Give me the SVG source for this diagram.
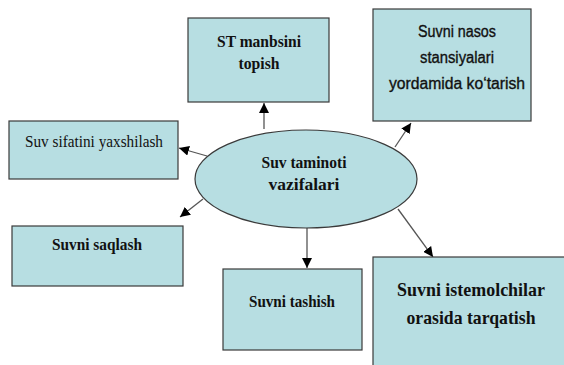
<svg xmlns="http://www.w3.org/2000/svg" width="564" height="365" viewBox="0 0 564 365">
<style>
.box{fill:#b7dee2;stroke:#3a3a3a;stroke-width:1.2}
.ser{font-family:"Liberation Serif","Times New Roman",serif;fill:#111;text-anchor:middle}
.b{font-weight:bold}
.sans{font-family:"Liberation Sans",Arial,sans-serif;fill:#111;stroke:#111;stroke-width:0.35;text-anchor:middle}
.con{stroke:#555;stroke-width:1.3;fill:none;marker-end:url(#ah)}
</style>
<defs>
<marker id="ah" viewBox="0 0 10 10" refX="10" refY="5" markerWidth="10" markerHeight="10" markerUnits="userSpaceOnUse" orient="auto">
<path d="M0,0 L10,5 L0,10 Z" fill="#000"/>
</marker>
</defs>
<rect width="564" height="365" fill="#fff"/>
<g id="connectors">
<line class="con" x1="264" y1="129" x2="264" y2="103"/>
<line class="con" x1="395" y1="147" x2="411" y2="123"/>
<line class="con" x1="207" y1="156" x2="179" y2="148"/>
<line class="con" x1="203" y1="199" x2="180" y2="217"/>
<line class="con" x1="307" y1="228" x2="307" y2="268"/>
<line class="con" x1="398" y1="209" x2="433" y2="257"/>
</g>
<g id="n-st">
<rect class="box" x="188" y="18" width="141" height="84"/>
<text class="ser b" x="259" y="47" font-size="17.5" textLength="84" lengthAdjust="spacingAndGlyphs">ST manbsini</text>
<text class="ser b" x="259" y="69" font-size="17.5" textLength="41" lengthAdjust="spacingAndGlyphs">topish</text>
</g>
<g id="n-nasos">
<rect class="box" x="373" y="9" width="158" height="112"/>
<text class="sans" x="457" y="37" font-size="16" textLength="78" lengthAdjust="spacingAndGlyphs">Suvni nasos</text>
<text class="sans" x="457" y="63" font-size="16" textLength="74" lengthAdjust="spacingAndGlyphs">stansiyalari</text>
<text class="sans" x="457" y="89" font-size="16" textLength="136" lengthAdjust="spacingAndGlyphs">yordamida ko‘tarish</text>
</g>
<g id="n-sifat">
<rect class="box" x="9" y="121" width="169" height="58"/>
<text class="ser" x="94" y="147" font-size="16" textLength="138" lengthAdjust="spacingAndGlyphs">Suv sifatini yaxshilash</text>
</g>
<g id="n-saqlash">
<rect class="box" x="12" y="226" width="171" height="60"/>
<text class="ser b" x="97" y="250" font-size="16.5" textLength="90" lengthAdjust="spacingAndGlyphs">Suvni saqlash</text>
</g>
<g id="n-center">
<ellipse class="box" cx="306" cy="179" rx="111" ry="49"/>
<text class="ser b" x="304" y="168" font-size="16.5" textLength="85" lengthAdjust="spacingAndGlyphs">Suv taminoti</text>
<text class="ser b" x="304" y="190" font-size="16.5" textLength="71" lengthAdjust="spacingAndGlyphs">vazifalari</text>
</g>
<g id="n-tashish">
<rect class="box" x="223" y="269" width="139" height="81"/>
<text class="ser b" x="292" y="307" font-size="16.5" textLength="86" lengthAdjust="spacingAndGlyphs">Suvni tashish</text>
</g>
<g id="n-tarqatish">
<rect class="box" x="373" y="257" width="200" height="120"/>
<text class="ser b" x="471" y="296" font-size="19.5" textLength="148" lengthAdjust="spacingAndGlyphs">Suvni istemolchilar</text>
<text class="ser b" x="471" y="324" font-size="19.5" textLength="129" lengthAdjust="spacingAndGlyphs">orasida tarqatish</text>
</g>
</svg>
